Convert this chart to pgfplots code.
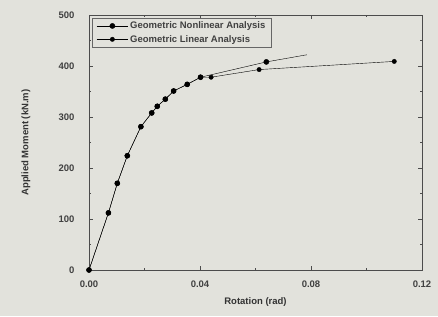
\documentclass[border=0pt]{standalone}
\usepackage{pgfplots}
\pgfplotsset{compat=1.18}
\usepackage{fontspec}
\setmainfont{Liberation Sans}
\definecolor{paper}{RGB}{226,226,220}
\begin{document}
\begin{tikzpicture}
\fill[paper] (-89pt,-46pt) rectangle (349pt,270pt);
\begin{axis}[
  scale only axis, width=333pt, height=255pt,
  xmin=0, xmax=0.12, ymin=0, ymax=500,
  xtick={0,0.04,0.08,0.12}, minor xtick={0.02,0.06,0.10},
  ytick={0,100,200,300,400,500}, minor ytick={50,150,250,350,450},
  xticklabels={0.00,0.04,0.08,0.12},
  tick align=inside, major tick length=4pt, minor tick length=2pt,
  tick style={black!70, thin},
  axis line style={black!70, thin},
  /pgf/number format/assume math mode=true,
  ticklabel style={font=\fontsize{9.5}{11}\selectfont\bfseries, text=black!75},
  xticklabel style={yshift=-7pt},
  yticklabel style={xshift=-11pt},
  xlabel={Rotation (rad)}, ylabel={Applied Moment (kN.m)},
  label style={font=\fontsize{9.5}{11}\selectfont\bfseries, text=black!80},
  xlabel style={at={(rel axis cs:0.5,0)}, yshift=-32pt, anchor=center},
  ylabel style={at={(rel axis cs:0,0.5)}, yshift=63pt, anchor=center},
  clip=false,
  legend style={at={(rel axis cs:0.01,0.99)}, anchor=north west, draw=black!60, fill=paper,
    font=\fontsize{9.5}{11}\selectfont\bfseries, text=black!75, cells={anchor=west}, row sep=1pt,
    inner xsep=4pt, inner ysep=2pt},
  legend image code/.code={\draw[mark repeat=2,mark phase=2,#1] plot coordinates {(0cm,0cm) (0.55cm,0cm) (1.1cm,0cm)};},
  legend cell align=left,
]
\addlegendimage{black, thin, mark=*, mark size=2.6pt, mark options={fill=black}}
\addlegendentry{Geometric Nonlinear Analysis}
\addlegendimage{black, thin, mark=*, mark size=2.2pt, mark options={fill=black}}
\addlegendentry{Geometric Linear Analysis}
\addplot[forget plot, black, thin, mark=*, mark size=2.6pt, mark options={fill=black}, mark indices={1,...,12}] coordinates {
 (0,0) (0.0070,112) (0.0102,170) (0.0138,224) (0.0187,281) (0.0226,308)
 (0.0246,321) (0.0275,335) (0.0305,351) (0.0354,364) (0.0402,378)
 (0.0639,408) (0.0785,422)
};
\addplot[forget plot, black, thin, mark=*, mark size=2.2pt, mark options={fill=black}] coordinates {
 (0,0) (0.0070,112) (0.0102,170) (0.0138,224) (0.0187,281) (0.0226,308)
 (0.0246,321) (0.0275,335) (0.0305,351) (0.0354,364) (0.0402,378)
 (0.0440,378) (0.0613,393) (0.1100,409)
};
\end{axis}
\end{tikzpicture}
\end{document}
